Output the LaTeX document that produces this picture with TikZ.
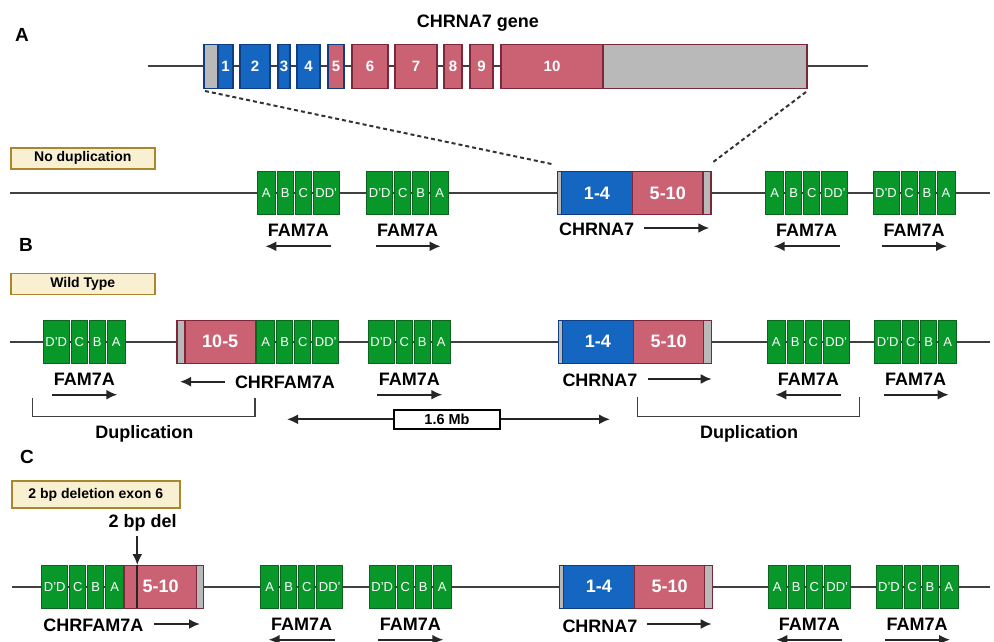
\documentclass[tikz,border=0pt]{standalone}
\usepackage{fontspec}
\setmainfont{Liberation Sans}
\usetikzlibrary{positioning,arrows.meta}

\definecolor{exonblue}{RGB}{20,102,192}
\definecolor{blueline}{RGB}{16,60,130}
\definecolor{exonred}{RGB}{202,98,116}
\definecolor{redline}{RGB}{125,40,58}
\definecolor{utrgray}{RGB}{185,185,185}
\definecolor{famgreen}{RGB}{8,152,42}
\definecolor{famline}{RGB}{12,100,30}
\definecolor{tagfill}{RGB}{248,240,208}
\definecolor{tagline}{RGB}{170,135,45}
\definecolor{chromgray}{RGB}{64,64,64}

\tikzstyle{chrom}=[draw=chromgray, line width=2pt]
\tikzstyle{seg}=[rectangle, draw=famline, fill=famgreen, line width=1pt, inner sep=0pt, outer sep=0pt, minimum height=43pt, anchor=west, text=white, font=\fontsize{13}{13}\selectfont]
\tikzstyle{exon}=[rectangle, line width=1.2pt, inner sep=0pt, outer sep=0pt, minimum height=44pt, anchor=west, text=white, font=\bfseries\fontsize{15}{15}\selectfont]
\tikzstyle{bx}=[exon, fill=exonblue, draw=blueline]
\tikzstyle{rx}=[exon, fill=exonred, draw=redline]
\tikzstyle{gx}=[exon, fill=utrgray, draw=redline]
\tikzstyle{cbx}=[bx, minimum height=43pt, font=\bfseries\fontsize{18}{18}\selectfont]
\tikzstyle{crx}=[rx, minimum height=43pt, font=\bfseries\fontsize{18}{18}\selectfont]
\tikzstyle{cgx}=[gx, minimum height=43pt]
\tikzstyle{genelabel}=[anchor=base, inner sep=0pt, font=\bfseries\fontsize{18}{18}\selectfont]
\tikzstyle{panel}=[anchor=base, inner sep=0pt, font=\bfseries\fontsize{19}{19}\selectfont]
\tikzstyle{tag}=[rectangle, draw=tagline, fill=tagfill, line width=1.5pt, anchor=west, inner sep=0pt, minimum width=144pt, minimum height=21pt, font=\bfseries\fontsize{14}{14}\selectfont]
\tikzstyle{dirarrow}=[-{Latex[length=11pt,width=10pt]}, line width=2pt, draw=black!85]
\tikzstyle{bracket}=[draw=chromgray, line width=1.5pt]
\tikzstyle{zoomline}=[draw=black!80, line width=2pt, dash pattern=on 4pt off 3pt]

\newcommand{\abcd}[3]{%
  \node[seg, minimum width=18pt] (#1a) at (#2,#3) {A};
  \node[seg, minimum width=16pt, right=2pt of #1a] (#1b) {B};
  \node[seg, minimum width=16pt, right=2pt of #1b] (#1c) {C};
  \node[seg, minimum width=26pt, right=2pt of #1c] (#1d) {DD'};}
\newcommand{\dcba}[3]{%
  \node[seg, minimum width=26pt] (#1a) at (#2,#3) {D'D};
  \node[seg, minimum width=16pt, right=2pt of #1a] (#1b) {C};
  \node[seg, minimum width=16pt, right=2pt of #1b] (#1c) {B};
  \node[seg, minimum width=18pt, right=2pt of #1c] (#1d) {A};}
\newcommand{\famleft}[3]{%
  \abcd{#1}{#2}{#3}
  \node[genelabel] (#1lab) at (#2+41,#3+43.6) {FAM7A};
  \coordinate (#1p) at (#2+74,#3+53);
  \coordinate (#1q) at (#2+8,#3+53);
  \draw[dirarrow] (#1p) -- (#1q);}
\newcommand{\famright}[3]{%
  \dcba{#1}{#2}{#3}
  \node[genelabel] (#1lab) at (#2+41,#3+43.6) {FAM7A};
  \coordinate (#1p) at (#2+74,#3+53);
  \coordinate (#1q) at (#2+9,#3+53);
  \draw[dirarrow] (#1q) -- (#1p);}

\begin{document}
\begin{tikzpicture}[x=1pt, y=-1pt]
\useasboundingbox (0,0) rectangle (994,642);

% A: gene
\node[panel] (pa) at (22,42) {A};
\node[genelabel] (title) at (478,28) {CHRNA7 gene};
\coordinate (ga) at (148,66.5);
\coordinate (gb) at (868,66.5);
\draw[chrom] (ga) -- (gb);

\node[gx, draw=blueline, minimum width=14pt] (e1u) at (204,66.5) {};
\node[bx, minimum width=15pt, right=0pt of e1u] (e1) {1};
\node[bx, minimum width=30pt] (e2) at (240,66.5) {2};
\node[bx, minimum width=12pt] (e3) at (278,66.5) {3};
\node[bx, minimum width=23pt] (e4) at (297,66.5) {4};
\node[rx, draw=blueline, minimum width=16pt] (e5) at (328,66.5) {5};
\node[rx, minimum width=36pt] (e6) at (352,66.5) {6};
\node[rx, minimum width=42pt] (e7) at (395,66.5) {7};
\node[rx, minimum width=18pt] (e8) at (444,66.5) {8};
\node[rx, minimum width=23pt] (e9) at (470,66.5) {9};
\node[rx, minimum width=102pt] (e10) at (501,66.5) {10};
\node[gx, minimum width=204pt, right=0pt of e10] (e10u) {};

% no duplication
\node[tag] (t1) at (10,158.3) {No duplication};
\coordinate (r1a) at (10,193.3);
\coordinate (r1b) at (990,193.3);
\draw[chrom] (r1a) -- (r1b);

\famleft{f1}{257.3}{193.3}
\famright{f2}{366.7}{193.3}
\node[cgx, draw=blueline, minimum width=4pt] (c1s) at (557.5,193.3) {};
\node[cbx, minimum width=71pt, right=0pt of c1s] (c1a) {1-4};
\node[crx, minimum width=70.5pt, right=0pt of c1a] (c1b) {5-10};
\node[cgx, minimum width=8pt, right=0pt of c1b] (c1u) {};
\node[genelabel] (cn1) at (596.7,235) {CHRNA7};
\coordinate (cn1p) at (644,228);
\coordinate (cn1q) at (709.3,228);
\draw[dirarrow] (cn1p) -- (cn1q);
\famleft{f3}{765.7}{193.3}
\famright{f4}{873}{193.3}

\draw[zoomline] ([shift={(1,2.5)}]e1u.south west) -- ([shift={(-4.5,-7.5)}]c1s.north west);
\draw[zoomline] ([shift={(-1,3.5)}]e10u.south east) -- ([shift={(0.5,-8.5)}]c1u.north east);

% B: wild type
\node[panel] (pb) at (26,251.7) {B};
\node[tag] (t2) at (10,283.8) {Wild Type};
\coordinate (r2a) at (10,341.7);
\coordinate (r2b) at (990,341.7);
\draw[chrom] (r2a) -- (r2b);

\famright{w1}{43.3}{341.7}
\node[cgx, minimum width=8pt] (h2u) at (177,341.7) {};
\node[crx, minimum width=70.5pt, right=0pt of h2u] (h2a) {10-5};
\abcd{w2}{256.7}{341.7}
\node[genelabel] (hn2) at (285,388) {CHRFAM7A};
\coordinate (hn2p) at (225,381.7);
\coordinate (hn2q) at (180,381.7);
\draw[dirarrow] (hn2p) -- (hn2q);
\famright{w3}{368.3}{341.7}
\node[cgx, draw=blueline, minimum width=4pt] (c2s) at (558.3,341.7) {};
\node[cbx, minimum width=71pt, right=0pt of c2s] (c2a) {1-4};
\node[crx, minimum width=70.5pt, right=0pt of c2a] (c2b) {5-10};
\node[cgx, minimum width=8pt, right=0pt of c2b] (c2u) {};
\node[genelabel] (cn2) at (600,386) {CHRNA7};
\coordinate (cn2p) at (648.3,379);
\coordinate (cn2q) at (711.7,379);
\draw[dirarrow] (cn2p) -- (cn2q);
\famleft{w4}{767.3}{341.7}
\famright{w5}{874.7}{341.7}

\coordinate (dl1) at (32.7,398);
\coordinate (dl2) at (255,398);
\draw[bracket] (dl1) |- (146,416.7) -| (dl2);
\node[genelabel] (dup1) at (144.3,438) {Duplication};
\coordinate (dr1) at (637.7,397);
\coordinate (dr2) at (859.3,397);
\draw[bracket] (dr1) |- (750,416.7) -| (dr2);
\node[genelabel] (dup2) at (749,438) {Duplication};

\node[draw, line width=1.5pt, fill=white, minimum width=106pt, minimum height=19pt, inner sep=0pt, font=\bfseries\fontsize{14.5}{14.5}\selectfont] (mb) at (447,419.3) {1.6 Mb};
\coordinate (mbl) at (287,419.3);
\coordinate (mbr) at (610,419.3);
\draw[dirarrow] (mb.west) -- (mbl);
\draw[dirarrow] (mb.east) -- (mbr);

% C: 2 bp deletion
\node[panel] (pc) at (27,463) {C};
\node[tag, minimum width=168pt, minimum height=27pt] (t3) at (11,494.7) {2 bp deletion exon 6};
\coordinate (r3a) at (12,586.7);
\coordinate (r3b) at (990,586.7);
\draw[chrom] (r3a) -- (r3b);

\dcba{d1}{41.7}{586.7}
\node[crx, minimum width=72pt, right=1pt of d1d] (h3a) {5-10};
\node[cgx, minimum width=6.5pt, right=0pt of h3a] (h3u) {};
\node[genelabel] (hn3) at (93.3,631.7) {CHRFAM7A};
\coordinate (hn3p) at (154,624);
\coordinate (hn3q) at (200,624);
\draw[dirarrow] (hn3p) -- (hn3q);

\node[genelabel] (del) at (142.7,527) {2 bp del};
\coordinate (dtop) at (137.3,536);
\coordinate (dtip) at (137.3,565);
\coordinate (dbot) at (137.3,608);
\draw[dirarrow] (dtop) -- (dtip);
\draw[line width=2pt, black!85] (dtip) -- (dbot);

\famleft{d2}{260.7}{586.7}
\famright{d3}{369.3}{586.7}
\node[cgx, draw=blueline, minimum width=4pt] (c3s) at (559.3,586.7) {};
\node[cbx, minimum width=71pt, right=0pt of c3s] (c3a) {1-4};
\node[crx, minimum width=70.5pt, right=0pt of c3a] (c3b) {5-10};
\node[cgx, minimum width=8pt, right=0pt of c3b] (c3u) {};
\node[genelabel] (cn3) at (600,632) {CHRNA7};
\coordinate (cn3p) at (647.3,624);
\coordinate (cn3q) at (711.7,624);
\draw[dirarrow] (cn3p) -- (cn3q);
\famleft{d4}{768.3}{586.7}
\famright{d5}{876}{586.7}

\end{tikzpicture}
\end{document}
